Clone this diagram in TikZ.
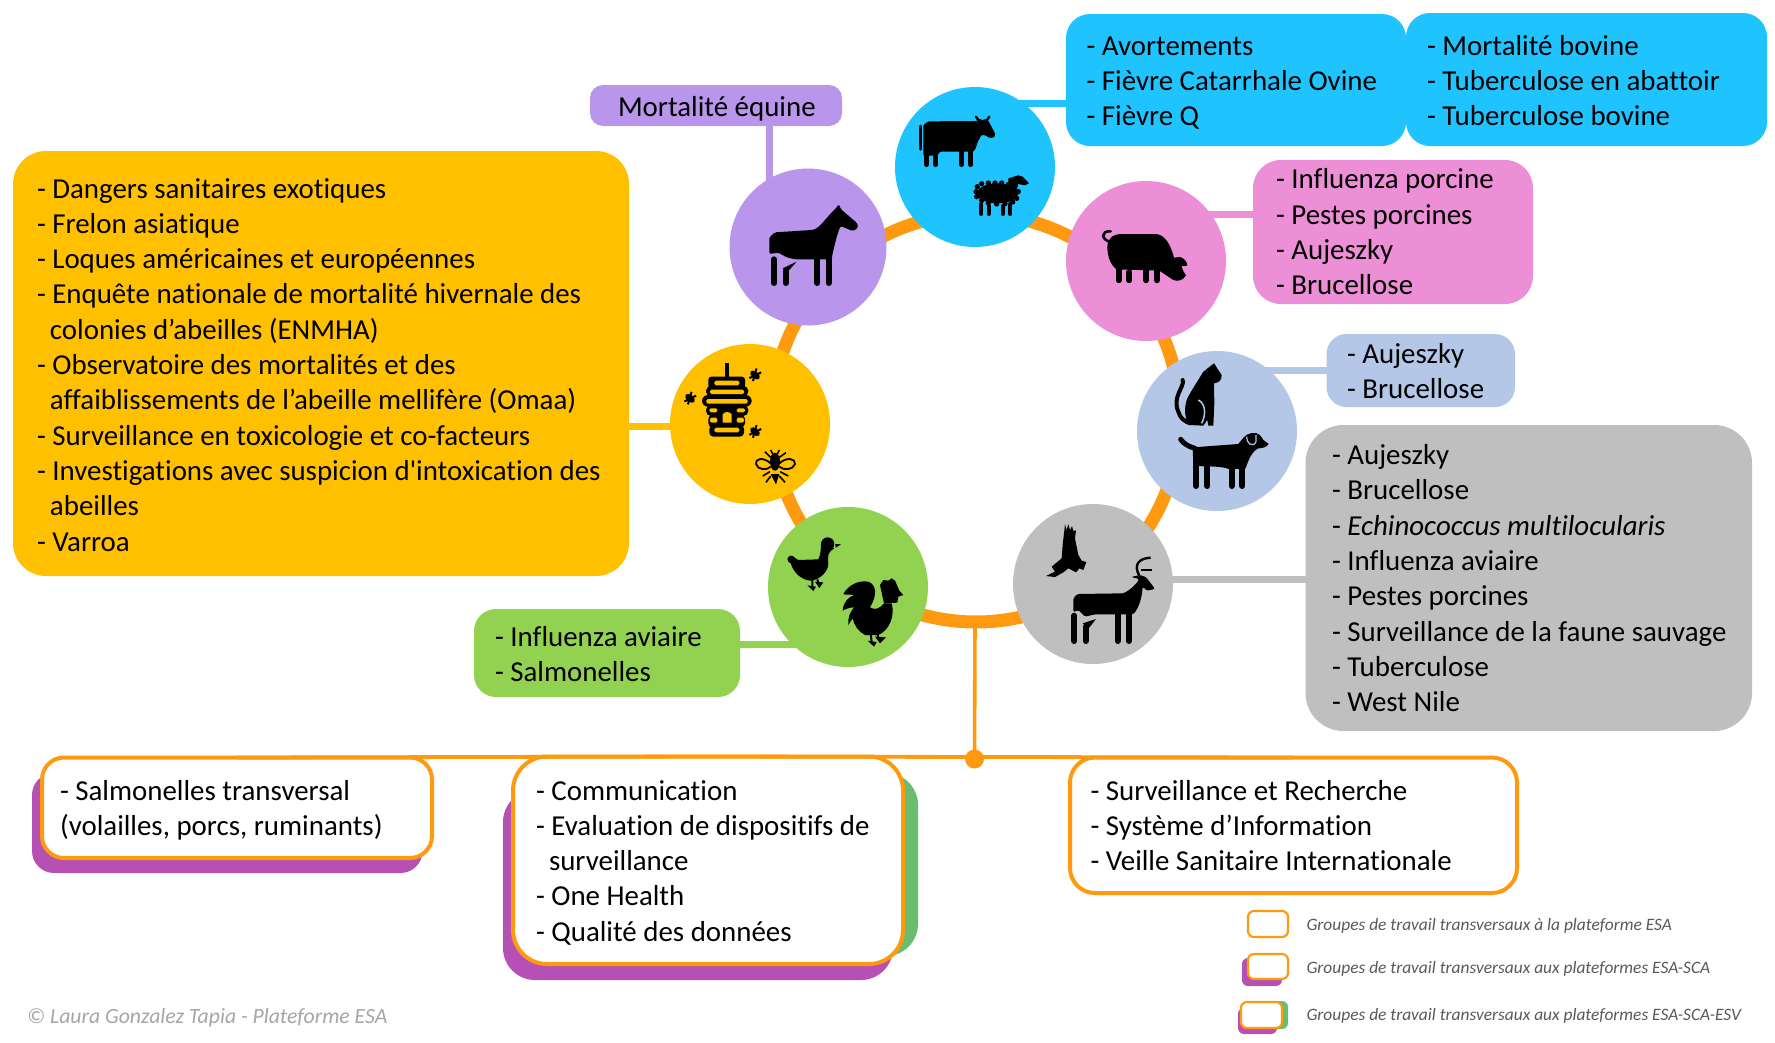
\documentclass[tikz,border=0pt]{standalone}
\usepackage{fontspec}
\newfontfamily\carl[WordSpace=1.33,Ligatures=NoCommon]{Carlito}
\newfontfamily\carli[Ligatures=NoCommon]{Carlito}
\definecolor{ccow}{HTML}{1FC4FF}
\definecolor{chorse}{HTML}{B995EB}
\definecolor{cpig}{HTML}{ED8FD6}
\definecolor{ccat}{HTML}{B4C7E7}
\definecolor{cwild}{HTML}{BFBFBF}
\definecolor{cgreen}{HTML}{92D250}
\definecolor{cbee}{HTML}{FFC000}
\definecolor{corange}{HTML}{FF9A10}
\definecolor{cpurple}{HTML}{B650B5}
\definecolor{cshgreen}{HTML}{6ABD6E}
\pgfdeclarelayer{bg}
\newcommand{\bx}[6]{\pgfmathsetmacro\bxw{#5-#3}\pgfmathsetmacro\bxh{#6-#4}\node[#2,minimum width=\bxw pt,minimum height=\bxh pt,anchor=north west] (#1) at (#3,#4) {};}
\tikzset{
  box/.style={inner sep=0pt,outer sep=0pt,rounded corners=#1},
  fbox/.style={inner sep=0pt,outer sep=0pt,rounded corners=#1,draw=corange,line width=4pt,fill=white},
  txt/.style={anchor=base west,inner sep=0pt,outer sep=0pt,align=flush left,font=\carl\fontsize{28.9}{35.3}\selectfont},
  circ/.style={circle,inner sep=0pt,outer sep=0pt,minimum size=160pt},
  conn/.style={line width=7pt},
  zA/.style={shift={(680,0)},x=.33333pt,y=-.33333pt},
  zC/.style={shift={(1150,340)},x=.33333pt,y=-.33333pt},
  zI/.style={shift={(1040,515)},x=.33333pt,y=-.33333pt},
  zP/.style={shift={(1100,210)},x=.33333pt,y=-.33333pt},
  zD/.style={shift={(780,520)},x=.33333pt,y=-.33333pt},
  zB/.style={shift={(680,350)},x=.33333pt,y=-.33333pt},
  leg/.style={line width=#1,line cap=round},
  legend/.style={anchor=base west,inner sep=0pt,outer sep=0pt,text=black!65,font=\carli\itshape\fontsize{17.4}{20}\selectfont},
}
\begin{document}
\begin{tikzpicture}[x=1pt,y=-1pt]
\pgfsetlayers{bg,main}
\useasboundingbox (0,0) rectangle (1775,1042);
\begin{pgfonlayer}{bg}
\fill[white] (0,0) rectangle (1775,1042);
\end{pgfonlayer}
% ring and circles
\begin{pgfonlayer}{bg}
\node[circle,draw=corange,line width=13pt,minimum size=408pt,inner sep=0pt,outer sep=0pt] (ring) at (976,418) {};
\end{pgfonlayer}
\node[circ,fill=ccow] (cow) at (975,167) {};
\node[circ,fill=chorse,minimum size=157pt] (horse) at (808,247) {};
\node[circ,fill=cpig] (pig) at (1146,261) {};
\node[circ,fill=ccat] (pets) at (1217,431) {};
\node[circ,fill=cwild] (wild) at (1093,584) {};
\node[circ,fill=cgreen] (poultry) at (848,587) {};
\node[circ,fill=cbee] (bees) at (750,424) {};
% boxes
\bx{bbee}{box=33pt,fill=cbee}{13}{151}{629}{576}
\bx{bhorse}{box=13pt,fill=chorse}{590}{85}{842}{126}
\bx{bcowa}{box=24pt,fill=ccow}{1066}{14}{1406}{146}
\bx{bcowb}{box=24pt,fill=ccow}{1406}{13}{1767}{146}
\bx{bpig}{box=28pt,fill=cpig}{1253}{160}{1533}{304}
\bx{bcat}{box=20pt,fill=ccat}{1326.5}{334}{1515}{407}
\bx{bwild}{box=38pt,fill=cwild}{1305.5}{425}{1752}{731}
\bx{bgreen}{box=22pt,fill=cgreen}{474}{609}{740}{697}
% connectors
\begin{pgfonlayer}{bg}
\draw[conn,draw=cbee] (bbee.east |- 0,426) -- (bees.center |- 0,426);
\draw[conn,draw=chorse] (bhorse.south -| 769,0) -- (769,210);
\draw[conn,draw=ccow] (bcowa.west |- 0,103) -- (cow.center |- 0,103);
\draw[conn,draw=cpig] (bpig.west |- 0,214) -- (pig.center |- 0,214);
\draw[conn,draw=ccat] (bcat.west |- 0,370) -- (pets.center |- 0,370);
\draw[conn,draw=cwild] (bwild.west |- 0,579) -- (wild.center |- 0,579);
\draw[conn,draw=cgreen] (bgreen.east |- 0,644) -- (poultry.center |- 0,644);
\end{pgfonlayer}
% bottom groups
\bx{shsalm}{box=22pt,fill=cpurple}{32}{773}{422.5}{873}
\bx{shcommg}{box=32pt,fill=cshgreen}{527}{773}{918}{956}
\bx{shcommp}{box=32pt,fill=cpurple}{503}{790}{893}{980}
\bx{salm}{fbox=22pt}{42}{757.5}{432}{858}
\bx{comm}{fbox=34pt}{513}{756.5}{903}{964}
\bx{sys}{fbox=25pt}{1070}{757.5}{1517}{893}
\node[circle,fill=corange,minimum size=19pt,inner sep=0pt,outer sep=0pt] (dot) at (974.5,759) {};
\begin{pgfonlayer}{bg}
\draw[corange,line width=3.6pt] (ring.south -| 975,0) -- (dot.center);
\end{pgfonlayer}
\draw[corange,line width=3.8pt] (salm.north) -- (comm.north) -- (sys.north);
% texts
\node[txt,text width=590pt] (tbee) at (37,198) {- Dangers sanitaires exotiques\\- Frelon asiatique\\- Loques américaines et européennes\\- Enquête nationale de mortalité hivernale des\\\hspace*{13pt}colonies d’abeilles (ENMHA)\\- Observatoire des mortalités et des\\\hspace*{13pt}affaiblissements de l’abeille mellifère (Omaa)\\- Surveillance en toxicologie et co-facteurs\\- Investigations avec suspicion d'intoxication des\\\hspace*{13pt}abeilles\\- Varroa};
\node[txt,text width=220pt] (thorse) at (618,116) {Mortalité équine};
\node[txt,text width=318pt] (tcowa) at (1086.5,55.3) {- Avortements\\- Fièvre Catarrhale Ovine\\- Fièvre Q};
\node[txt,text width=335pt] (tcowb) at (1427,55.3) {- Mortalité bovine\\- Tuberculose en abattoir\\- Tuberculose bovine};
\node[txt,text width=250pt] (tpig) at (1276,188.7) {- Influenza porcine\\- Pestes porcines\\- Aujeszky\\- Brucellose};
\node[txt,text width=165pt] (tcat) at (1347,363) {- Aujeszky\\- Brucellose};
\node[txt,text width=415pt] (twild) at (1332,464.5) {- Aujeszky\\- Brucellose\\- \textit{Echinococcus multilocularis}\\- Influenza aviaire\\- Pestes porcines\\- Surveillance de la faune sauvage\\- Tuberculose\\- West Nile};
\node[txt,text width=240pt] (tgreen) at (495,646) {- Influenza aviaire\\- Salmonelles};
\node[txt,text width=365pt] (tsalm) at (60,800) {- Salmonelles transversal\\(volailles, porcs, ruminants)};
\node[txt,text width=360pt] (tcomm) at (536,800) {- Communication\\- Evaluation de dispositifs de\\\hspace*{13pt}surveillance\\- One Health\\- Qualité des données};
\node[txt,text width=420pt] (tsys) at (1090.5,800) {- Surveillance et Recherche\\- Système d’Information\\- Veille Sanitaire Internationale};
\node[inner sep=0pt,anchor=base west,text=black!35,font=\carli\itshape\fontsize{21.7}{24}\selectfont] (copyr) at (27,1023.6) {© Laura Gonzalez Tapia - Plateforme ESA};
% legend
\bx{lega}{draw=corange,line width=2.2pt,fill=white,box=6pt}{1248}{911}{1288}{937}
\bx{legbp}{box=6pt,fill=cpurple}{1242}{958}{1282}{986}
\bx{legb}{draw=corange,line width=2.2pt,fill=white,box=6pt}{1248}{954}{1288}{979}
\bx{legcg}{box=6pt,fill=cshgreen}{1250}{1001}{1288}{1029}
\bx{legcp}{box=6pt,fill=cpurple}{1238}{1008}{1277}{1034}
\bx{legc}{draw=corange,line width=2.2pt,fill=white,box=6pt}{1241}{1002}{1282}{1028}
\node[legend] (ltxa) at (1306.5,930.5) {Groupes de travail transversaux à la plateforme ESA};
\node[legend] (ltxb) at (1306.5,973.5) {Groupes de travail transversaux aux plateformes ESA-SCA};
\node[legend] (ltxc) at (1306.5,1020.5) {Groupes de travail transversaux aux plateformes ESA-SCA-ESV};
% --- icons ---
% horse
\begin{scope}[zA]
\fill[rounded corners=1.5pt] (268,762) -- (268,712) -- (285,697) -- (395,690) .. controls (420,685) and (440,650) .. (468,625) -- (476,612) -- (483,628) -- (530,668) .. controls (538,682) and (525,695) .. (510,690) -- (482,678) .. controls (472,700) and (465,730) .. (458,760) -- (455,778) -- (345,778) -- (320,772) -- (295,758) -- cycle;
\draw[leg=6pt] (412,760) -- (412,849) (446,760) -- (446,849) (282,778) -- (282,849) (317,812) -- (317,849);
\fill (308,805) -- (350,785) -- (326,812) -- cycle;
% cow
\fill[rounded corners=1pt] (730,467) -- (730,375) -- (745,364) -- (885,363) -- (925,362) -- (945,400) .. controls (947,415) and (930,418) .. (915,405) -- (905,405) .. controls (890,425) and (890,445) .. (880,455) -- (780,455) -- (772,467) -- cycle;
\draw[line width=2.6pt,line cap=round] (721,378) -- (721,448);
\draw[line width=2.4pt,line cap=round] (888,350) .. controls (890,368) and (926,368) .. (928,350);
\draw[leg=4.7pt] (740,460) -- (740,494) (767,470) -- (767,494) (845,450) -- (845,494) (872,450) -- (872,494);
% sheep
\fill (953,580) ellipse (62 and 30);
\foreach \ax/\ay in {892/560,905/551,925/549,945/549,965/549,985/554,1005/560,1015/575,1010/595,998/606,975/611,950/612,925/609,905/601,890/590,888/575}{\fill (\ax,\ay) circle (8);}
\fill (985,535) -- (1015,526) -- (1028,530) -- (1047,550) -- (1035,556) -- (1015,552) -- (1008,570) -- (985,565) -- cycle;
\draw[leg=4pt] (904,612) -- (904,642) (926,618) -- (926,642) (968,618) -- (968,642) (991,612) -- (991,642);
\end{scope}
% pig
\begin{scope}[zP]
\fill (22,110) .. controls (22,85) and (40,72) .. (65,72) -- (165,72) .. controls (195,72) and (212,105) .. (222,143) -- (240,141) .. controls (250,143) and (262,155) .. (262,167) -- (245,168) .. controls (248,180) and (252,190) .. (258,196) .. controls (250,210) and (235,216) .. (220,210) -- (178,182) -- (50,178) .. controls (30,165) and (22,135) .. (22,110) -- cycle;
\draw[line width=2.6pt,line cap=round] (30,95) .. controls (5,90) and (0,62) .. (32,64);
\draw[leg=5.7pt] (56,172) -- (56,211) (88,186) -- (88,211) (138,172) -- (138,211) (171,172) -- (171,211);
\end{scope}
% cat and dog
\begin{scope}[zC]
\fill (160,95) -- (192,70) -- (215,105) .. controls (216,122) and (205,128) .. (192,130) -- (193,190) -- (190,257) -- (175,257) -- (172,240) -- (160,257) -- (118,255) .. controls (105,240) and (100,205) .. (112,175) .. controls (125,150) and (145,120) .. (160,95) -- cycle;
\draw[line width=4pt,line cap=round] (98,120) .. controls (105,140) and (65,170) .. (85,215) .. controls (90,235) and (105,245) .. (120,250);
\draw[ccat,line width=1.5pt] (145,180) .. controls (165,190) and (170,220) .. (155,250);
\draw[line width=5pt,line cap=round] (92,298) .. controls (100,310) and (115,320) .. (135,325);
\fill (128,322) -- (265,312) .. controls (275,300) and (285,282) .. (305,279) .. controls (325,275) and (335,290) .. (340,300) -- (356,312) .. controls (350,322) and (335,325) .. (325,325) .. controls (305,335) and (295,360) .. (287,385) -- (240,388) .. controls (210,378) and (190,380) .. (130,378) -- cycle;
\draw[ccat,line width=1.2pt] (290,290) .. controls (288,310) and (310,325) .. (318,305) -- (318,285);
\draw[leg=6pt] (139,370) -- (139,438) (172,382) -- (172,438) (245,385) -- (245,438) (277,370) -- (277,438);
\end{scope}
% eagle and goat
\begin{scope}[zI]
\fill (75,28) -- (80,45) -- (85,28) -- (90,45) -- (96,33) -- (100,48) -- (108,46) -- (105,70) -- (115,120) -- (125,137) -- (139,141) -- (130,165) -- (118,160) -- (108,172) -- (85,160) -- (70,172) -- (45,186) -- (18,183) -- (45,170) -- (35,155) -- (65,130) -- (68,90) -- cycle;
\fill[rounded corners=1.5pt] (100,292) -- (100,250) -- (112,237) -- (250,235) .. controls (275,222) and (290,205) .. (298,192) -- (273,186) -- (300,180) -- (318,186) -- (345,222) -- (320,227) -- (308,215) .. controls (305,250) and (298,275) .. (280,298) -- (165,298) -- (135,305) -- (115,285) -- cycle;
\draw[line width=2.4pt] (298,182) .. controls (280,150) and (295,130) .. (332,128);
\draw[line width=2.2pt] (302,165) -- (335,165);
\draw[leg=6pt] (233,290) -- (233,378) (267,290) -- (267,378) (103,302) -- (103,378) (137,335) -- (137,378);
\fill (128,325) -- (168,312) -- (146,340) -- cycle;
\end{scope}
% poultry
\begin{scope}[zD]
\fill (143,72) circle (20);
\fill (166,72) -- (183,73) -- (167,83) -- cycle;
\fill (123,75) -- (163,85) .. controls (145,95) and (142,105) .. (145,130) .. controls (145,155) and (120,180) .. (90,182) .. controls (60,178) and (40,155) .. (32,130) .. controls (20,125) and (18,110) .. (32,107) .. controls (42,107) and (48,118) .. (55,120) -- (115,118) .. controls (122,105) and (122,90) .. (123,75) -- cycle;
\draw[line width=2pt] (97,178) -- (97,200) (112,178) -- (116,195);
\fill (82,196) -- (108,200) -- (100,213) -- cycle (105,185) -- (130,187) -- (118,204) -- cycle;
\fill (188,272) .. controls (190,245) and (205,232) .. (222,225) .. controls (198,222) and (190,225) .. (190,222) .. controls (205,195) and (235,180) .. (265,185) .. controls (290,195) and (292,225) .. (270,262) .. controls (285,272) and (300,265) .. (312,250) -- (335,250) .. controls (345,285) and (330,330) .. (295,345) -- (255,345) .. controls (235,335) and (222,315) .. (218,295) -- (205,315) .. controls (203,295) and (208,280) .. (222,262) .. controls (208,262) and (195,268) .. (188,272) -- cycle;
\fill (300,195) -- (310,180) -- (325,182) -- (335,175) -- (345,182) -- (358,212) -- (370,225) -- (355,230) -- (352,248) -- (312,250) -- cycle;
\draw[line width=2pt] (272,340) -- (275,365) (292,340) -- (295,355);
\fill (263,362) -- (290,366) -- (282,380) -- cycle (285,350) -- (318,352) -- (300,370) -- cycle;
\end{scope}
% hive and bees
\begin{scope}[zB]
\fill (134,38) rectangle (147,85);
\fill[rounded corners=3pt] (85,80) rectangle (195,120);
\fill[rounded corners=5pt] (78,108) rectangle (205,140);
\fill[rounded corners=6pt] (66,135) rectangle (215,170);
\fill[rounded corners=5pt] (78,165) rectangle (205,198);
\fill[rounded corners=4pt] (85,195) rectangle (195,232);
\fill[rounded corners=4pt] (88,225) rectangle (192,260);
\fill[cbee,rounded corners=1.5pt] (103,92) rectangle (178,106);
\fill[cbee,rounded corners=1.5pt] (90,119) rectangle (192,132);
\fill[cbee,rounded corners=1.5pt] (79,147) rectangle (203,161);
\fill[cbee,rounded corners=1.5pt] (88,175) rectangle (112,187);
\fill[cbee,rounded corners=1.5pt] (170,175) rectangle (195,187);
\fill[cbee,rounded corners=1.5pt] (90,203) rectangle (112,218);
\fill[cbee,rounded corners=1.5pt] (170,203) rectangle (192,218);
\fill[cbee,rounded corners=1.5pt] (103,233) rectangle (178,247);
\fill (115,225) -- (115,190) .. controls (120,172) and (160,172) .. (168,190) -- (168,225) -- cycle;
\fill[cbee] (128,218) -- (128,193) .. controls (132,184) and (150,184) .. (155,193) -- (155,218) -- cycle;
\foreach \sx/\sy/\sr in {225/75/-40,30/145/-40,225/245/-40}{
\begin{scope}[shift={(\sx,\sy)},rotate=\sr]
\fill (0,0) ellipse (17 and 10);
\draw[line width=2pt] (-9,-18) -- (7,18) (9,-18) -- (-7,18);
\end{scope}}
% big bee
\fill (285,335) ellipse (15 and 27);
\fill (272,372) -- (298,372) -- (288,403) -- cycle;
\draw[line width=1.8pt] (272,340) .. controls (250,320) and (225,325) .. (228,342) .. controls (232,360) and (262,362) .. (272,350);
\draw[line width=1.8pt] (298,340) .. controls (320,320) and (347,325) .. (345,342) .. controls (340,360) and (310,362) .. (298,350);
\draw[line width=1.6pt] (278,312) -- (272,300) (292,312) -- (298,300) (272,322) -- (255,305) (298,322) -- (318,308) (270,365) -- (248,378) (300,365) -- (325,378) (272,378) -- (258,397) (298,378) -- (315,397);
\fill[cbee] (270,363) rectangle (300,369);
\end{scope}
\end{tikzpicture}
\end{document}
